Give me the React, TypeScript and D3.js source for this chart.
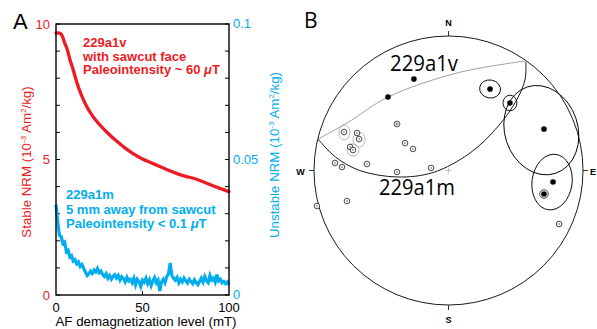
import React from "react";
import * as d3 from "d3";

// ---------- Panel A data ----------
const stableAF = [0, 2, 3, 4, 5, 6, 7, 8, 10, 12, 15, 18, 21, 25, 30, 35, 40, 45, 50, 55, 60, 65, 70, 75, 80, 85, 90, 95, 100];
const stableNRM = [9.67, 9.66, 9.62, 9.5, 9.3, 9.15, 8.95, 8.7, 8.3, 7.85, 7.33, 6.93, 6.62, 6.3, 5.97, 5.68, 5.42, 5.2, 5.02, 4.88, 4.74, 4.6, 4.48, 4.38, 4.3, 4.18, 4.05, 3.93, 3.81];
// unstable NRM, one reading per mT from 0 to 100
const unstableNRM = [
  0.0333, 0.027, 0.022, 0.0215, 0.019, 0.0195, 0.016, 0.0165, 0.014, 0.0145,
  0.0125, 0.013, 0.0115, 0.0122, 0.0105, 0.0112, 0.0098, 0.0085, 0.0072, 0.0078,
  0.0088, 0.008, 0.0092, 0.0085, 0.0098, 0.0082, 0.0088, 0.0075, 0.0068, 0.0078,
  0.0062, 0.0072, 0.0058, 0.0068, 0.0075, 0.0063, 0.0072, 0.0055, 0.0067, 0.006,
  0.0048, 0.0065, 0.0052, 0.0058, 0.0045, 0.0062, 0.0038, 0.0058, 0.005, 0.0032,
  0.0055, 0.0047, 0.0062, 0.0042, 0.0056, 0.0035, 0.0052, 0.0064, 0.0045, 0.0055,
  0.0015, 0.0048, 0.0058, 0.0045, 0.0068, 0.0078, 0.0118, 0.0072, 0.0062, 0.0055,
  0.0065, 0.0045, 0.0058, 0.0048, 0.0062, 0.0052, 0.0044, 0.0058, 0.005, 0.0042,
  0.0056, 0.0046, 0.0038, 0.005, 0.0062, 0.0048, 0.0068, 0.0052, 0.0045, 0.0072,
  0.0055, 0.0062, 0.0048, 0.0075, 0.0052, 0.0058, 0.0045, 0.005, 0.0042, 0.0048,
  0.0037,
];
const leftTicks = [0, 1, 2, 3, 4, 5, 6, 7, 8, 9, 10];
const leftTickLabels = [0, 5, 10];
const rightTicks = [0, 0.01, 0.02, 0.03, 0.04, 0.05, 0.06, 0.07, 0.08, 0.09, 0.1];
const rightTickLabels = [0, 0.05, 0.1];
const xTickLabels = [0, 50, 100];
const xTicks = [50];
const redTextLines = ["229a1v", "with sawcut face", "Paleointensity ~ 60 "];
const blueTextLines = ["229a1m", "5 mm away from sawcut", "Paleointensity < 0.1 "];

// ---------- Panel B data (normalised equal-area coordinates, x east, y north) ----------
type Pt = { x: number; y: number };
const lowerHemisphere: Pt[] = [
  { x: -0.257, y: 0.68 },
  { x: -0.45, y: 0.546 },
  { x: 0.309, y: 0.606 },
  { x: 0.457, y: 0.502 },
  { x: 0.71, y: 0.309 },
  { x: 0.777, y: -0.086 },
  { x: 0.71, y: -0.175 },
];
const ringedLower: Pt[] = [{ x: 0.71, y: -0.175 }];
const upperHemisphere: Pt[] = [
  { x: 0.822, y: -0.398 },
  { x: -0.323, y: 0.204 },
  { x: -0.264, y: 0.16 },
  { x: -0.777, y: 0.286 },
  { x: -0.68, y: 0.279 },
  { x: -0.665, y: 0.234 },
  { x: -0.732, y: 0.175 },
  { x: -0.71, y: 0.152 },
  { x: -0.844, y: 0.056 },
  { x: -0.792, y: 0.026 },
  { x: -0.606, y: 0.048 },
  { x: -0.383, y: -0.011 },
  { x: -0.13, y: 0.019 },
  { x: -0.755, y: -0.227 },
  { x: -0.978, y: -0.264 },
];
const grayUpper: Pt[] = [{ x: -0.383, y: 0.346 }];
type Ell = { x: number; y: number; a: number; b: number; rot: number };
const blackEllipses: Ell[] = [
  { x: 0.309, y: 0.606, a: 0.078, b: 0.067, rot: 10 },
  { x: 0.457, y: 0.502, a: 0.052, b: 0.058, rot: 0 },
  { x: 0.69, y: 0.3, a: 0.272, b: 0.338, rot: -18 },
  { x: 0.77, y: -0.086, a: 0.149, b: 0.208, rot: 8 },
];
const grayEllipses: Ell[] = [
  { x: -0.774, y: 0.283, a: 0.041, b: 0.056, rot: 0 },
  { x: -0.665, y: 0.23, a: 0.045, b: 0.056, rot: 0 },
  { x: -0.71, y: 0.152, a: 0.045, b: 0.045, rot: 0 },
];
const greatCircle: Pt[] = [
  { x: -0.97, y: 0.234 },
  { x: -0.755, y: 0.353 },
  { x: -0.45, y: 0.546 },
  { x: 0.063, y: 0.725 },
  { x: 0.569, y: 0.814 },
];
const confidenceArc: Pt[] = [
  { x: -0.97, y: 0.234 },
  { x: -0.84, y: 0.1 },
  { x: -0.66, y: 0.0 },
  { x: -0.383, y: -0.048 },
  { x: -0.115, y: -0.015 },
  { x: 0.16, y: 0.13 },
  { x: 0.37, y: 0.33 },
  { x: 0.51, y: 0.53 },
  { x: 0.57, y: 0.68 },
  { x: 0.575, y: 0.808 },
];
const compass = ["N", "E", "S", "W"];

const RED = "#ed1c24";
const BLUE = "#00aeef";
const SANS = "'Liberation Sans', Arial, Helvetica, sans-serif";
const NET_FONT = "'Open Sans', 'Noto Sans', sans-serif";

export default function App() {
  const W = 597;
  const H = 329;
  const x = d3.scaleLinear().domain([0, 100]).range([56, 229]);
  const yL = d3.scaleLinear().domain([0, 10]).range([295, 24]);
  const yR = d3.scaleLinear().domain([0, 0.1]).range([295, 24]);

  const redLine = d3
    .line<number>()
    .x((_, i) => x(stableAF[i]))
    .y((d) => yL(d))
    .curve(d3.curveMonotoneX)(stableNRM) as string;
  const blueLine = d3
    .line<number>()
    .x((_, i) => x(i))
    .y((d) => yR(d))(unstableNRM) as string;

  // stereonet
  const cx = 448.5;
  const cy = 170.5;
  const R = 134.5;
  const sx = d3.scaleLinear().domain([-1, 1]).range([cx - R, cx + R]);
  const sy = d3.scaleLinear().domain([-1, 1]).range([cy + R, cy - R]);
  const sr = d3.scaleLinear().domain([0, 1]).range([0, R]);
  const netLine = d3
    .line<Pt>()
    .x((d) => sx(d.x))
    .y((d) => sy(d.y))
    .curve(d3.curveCatmullRom);

  const compassPos: Record<string, [number, number, number, number, number, number]> = {
    N: [cx, 26, cx, cy - R - 5, cx, cy - R],
    S: [cx, 323, cx, cy + R, cx, cy + R + 5],
    W: [300.5, cy + 4, cx - R - 5, cy, cx - R, cy],
    E: [593, cy + 4, cx + R, cy, cx + R + 5, cy],
  };

  return (
    <svg
      width={W}
      height={H}
      viewBox={`0 0 ${W} ${H}`}
      style={{ position: "absolute", left: 0, top: 0, background: "#fff" }}
    >
      <rect width={W} height={H} fill="#fff" />
      {/* ---------------- Panel A ---------------- */}
      <text x={13} y={29} fontFamily={SANS} fontSize={22} fill="#000">A</text>
      <g fontFamily={SANS}>
        {leftTicks.map((t) => (
          <line key={"lt" + t} x1={x(0)} x2={x(0) + 4} y1={yL(t)} y2={yL(t)} stroke="#000" strokeWidth={1} />
        ))}
        {rightTicks.map((t) => (
          <line key={"rt" + t} x1={x(100) - 4} x2={x(100)} y1={yR(t)} y2={yR(t)} stroke="#000" strokeWidth={1} />
        ))}
        {xTicks.map((t) => (
          <line key={"xt" + t} x1={x(t)} x2={x(t)} y1={yL(0)} y2={yL(0) - 4} stroke="#000" strokeWidth={1} />
        ))}
        {leftTickLabels.map((t) => (
          <text key={"ll" + t} x={50} y={yL(t) + 4.5} textAnchor="end" fontSize={13} fill={RED}>{t}</text>
        ))}
        {rightTickLabels.map((t) => (
          <text key={"rl" + t} x={233} y={yR(t) + 4} textAnchor="start" fontSize={13} fill={BLUE}>{t}</text>
        ))}
        {xTickLabels.map((t) => (
          <text key={"xl" + t} x={x(t)} y={312} textAnchor="middle" fontSize={13} fill="#000">{t}</text>
        ))}
        <text x={146} y={326} textAnchor="middle" fontSize={13.3} fill="#000">AF demagnetization level (mT)</text>
        <text transform={`translate(31,162) rotate(-90)`} textAnchor="middle" fontSize={13.3} fill={RED}>
          Stable NRM (10<tspan fontSize={8} dy={-5}>-3</tspan><tspan dy={5}> Am</tspan><tspan fontSize={8} dy={-5}>2</tspan><tspan dy={5}>/kg)</tspan>
        </text>
        <text transform={`translate(279,155) rotate(-90)`} textAnchor="middle" fontSize={13.3} fill={BLUE}>
          Unstable NRM (10<tspan fontSize={8} dy={-5}>-3</tspan><tspan dy={5}> Am</tspan><tspan fontSize={8} dy={-5}>2</tspan><tspan dy={5}>/kg)</tspan>
        </text>
        <path d={blueLine} fill="none" stroke={BLUE} strokeWidth={3.2} strokeLinejoin="miter" />
        <path d={redLine} fill="none" stroke={RED} strokeWidth={3.3} strokeLinecap="round" />
        <rect x={x(0)} y={yL(10)} width={x(100) - x(0)} height={yL(0) - yL(10)} fill="none" stroke="#000" strokeWidth={1.4} />
        {redTextLines.map((s, i) => (
          <text key={"rt" + i} x={83} y={47 + i * 13.5} fontSize={13} fontWeight="bold" fill={RED}>
            {s}
            {i === 2 ? (
              <>
                <tspan fontStyle="italic">μ</tspan>T
              </>
            ) : null}
          </text>
        ))}
        {blueTextLines.map((s, i) => (
          <text key={"bt" + i} x={66} y={199 + i * 14.5} fontSize={13} fontWeight="bold" fill={BLUE}>
            {s}
            {i === 2 ? (
              <>
                <tspan fontStyle="italic">μ</tspan>T
              </>
            ) : null}
          </text>
        ))}
      </g>

      {/* ---------------- Panel B ---------------- */}
      <text x={304} y={28} fontFamily={NET_FONT} fontSize={21} fill="#000">B</text>
      <circle cx={cx} cy={cy} r={R} fill="none" stroke="#000" strokeWidth={0.9} />
      {compass.map((c) => {
        const p = compassPos[c];
        return (
          <g key={c}>
            <line x1={p[2]} y1={p[3]} x2={p[4]} y2={p[5]} stroke="#000" strokeWidth={0.8} />
            <text x={p[0]} y={p[1]} textAnchor="middle" fontFamily={SANS} fontWeight="bold" fontSize={9} fill="#000">{c}</text>
          </g>
        );
      })}
      <line x1={cx - 3} x2={cx + 3} y1={cy} y2={cy} stroke="#aaa" strokeWidth={0.7} />
      <line x1={cx} x2={cx} y1={cy - 3} y2={cy + 3} stroke="#aaa" strokeWidth={0.7} />
      <path d={netLine(greatCircle) as string} fill="none" stroke="#888" strokeWidth={0.8} />
      <path d={netLine(confidenceArc) as string} fill="none" stroke="#000" strokeWidth={0.9} />
      {blackEllipses.map((e, i) => (
        <ellipse key={"be" + i} cx={sx(e.x)} cy={sy(e.y)} rx={sr(e.a)} ry={sr(e.b)}
          transform={`rotate(${e.rot} ${sx(e.x)} ${sy(e.y)})`} fill="none" stroke="#000" strokeWidth={0.9} />
      ))}
      {grayEllipses.map((e, i) => (
        <ellipse key={"ge" + i} cx={sx(e.x)} cy={sy(e.y)} rx={sr(e.a)} ry={sr(e.b)}
          transform={`rotate(${e.rot} ${sx(e.x)} ${sy(e.y)})`} fill="none" stroke="#999" strokeWidth={0.7} />
      ))}
      {upperHemisphere.map((p, i) => (
        <g key={"u" + i}>
          <circle cx={sx(p.x)} cy={sy(p.y)} r={2.8} fill="#fff" stroke="#333" strokeWidth={0.9} />
          <circle cx={sx(p.x)} cy={sy(p.y)} r={0.8} fill="#555" />
        </g>
      ))}
      {grayUpper.map((p, i) => (
        <g key={"g" + i}>
          <circle cx={sx(p.x)} cy={sy(p.y)} r={3} fill="#ccc" stroke="#555" strokeWidth={0.9} />
          <circle cx={sx(p.x)} cy={sy(p.y)} r={0.8} fill="#555" />
        </g>
      ))}
      {ringedLower.map((p, i) => (
        <circle key={"r" + i} cx={sx(p.x)} cy={sy(p.y)} r={4.3} fill="#fff" stroke="#333" strokeWidth={0.9} />
      ))}
      {lowerHemisphere.map((p, i) => (
        <circle key={"l" + i} cx={sx(p.x)} cy={sy(p.y)} r={2.8} fill="#000" />
      ))}
      <text x={390} y={71} fontFamily={NET_FONT} fontSize={21} fill="#000" textLength={68} lengthAdjust="spacingAndGlyphs">229a1v</text>
      <text x={379} y={195} fontFamily={NET_FONT} fontSize={21} fill="#000" textLength={76} lengthAdjust="spacingAndGlyphs">229a1m</text>
    </svg>
  );
}
